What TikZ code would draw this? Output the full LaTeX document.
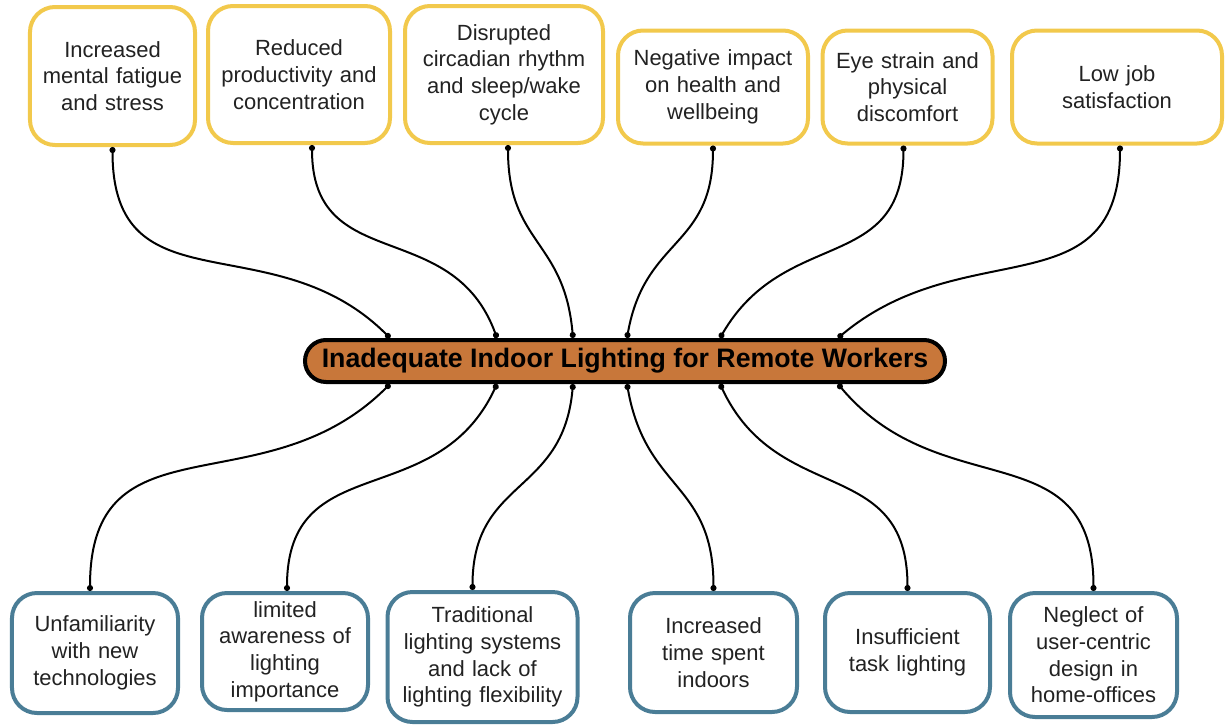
\documentclass[tikz,border=0pt]{standalone}
\usepackage{fontspec}
\setmainfont{Liberation Sans}
\usetikzlibrary{arrows.meta}

\definecolor{effectcol}{HTML}{F2C94C}
\definecolor{causecol}{HTML}{4A7D96}
\definecolor{problemcol}{HTML}{C8773A}
\definecolor{textcol}{HTML}{222222}

\tikzset{
  box/.style={rectangle,rounded corners=5mm,line width=0.8mm,fill=white,
    align=center,text=textcol,inner sep=1mm,
    font=\fontsize{12.5}{15.2}\selectfont},
  effect/.style={box,draw=effectcol},
  cause/.style={box,draw=causecol},
  problem/.style={rectangle,rounded corners=4.2mm,line width=0.8mm,draw=black,
    fill=problemcol,minimum width=128mm,minimum height=8.4mm,
    font=\fontsize{15.2}{18}\selectfont\bfseries},
  link/.style={line width=0.4mm,looseness=1.25,
    {Circle[length=1.2mm]}-{Circle[length=1.2mm]}}
}

\begin{document}
\begin{tikzpicture}[x=0.2mm,y=0.2mm]
  \useasboundingbox (0,0) rectangle (1225,-725);

  % Central problem
  \node[problem] (P) at (625,-361) {Inadequate Indoor Lighting for Remote Workers};

  % Effects (top row)
  \node[effect,minimum width=33mm,minimum height=27.6mm,text width=31mm] (T1) at (112.5,-76) {Increased\\mental fatigue\\and stress};
  \node[effect,minimum width=36.4mm,minimum height=27.4mm,text width=34mm] (T2) at (299,-74.5) {Reduced\\productivity and\\concentration};
  \node[effect,minimum width=39.6mm,minimum height=27.4mm,text width=37mm] (T3) at (504,-74.5) {Disrupted\\circadian rhythm\\and sleep/wake\\cycle};
  \node[effect,minimum width=38mm,minimum height=22.6mm,text width=36mm] (T4) at (713,-87) {Negative impact\\on health and\\wellbeing};
  \node[effect,minimum width=33.8mm,minimum height=22.6mm,text width=32mm] (T5) at (907.5,-87) {Eye strain and\\physical\\discomfort};
  \node[effect,minimum width=42mm,minimum height=22.6mm,text width=38mm] (T6) at (1117,-87) {Low job\\satisfaction};

  % Causes (bottom row)
  \node[cause,minimum width=33.2mm,minimum height=24mm,text width=31mm] (B1) at (95,-653) {Unfamiliarity\\with new\\technologies};
  \node[cause,minimum width=33.2mm,minimum height=23.4mm,text width=31mm] (B2) at (285,-651.5) {limited\\awareness of\\lighting\\importance};
  \node[cause,minimum width=37.8mm,minimum height=26mm,text width=36mm] (B3) at (482.5,-657) {Traditional\\lighting systems\\and lack of\\lighting flexibility};
  \node[cause,minimum width=33.4mm,minimum height=23.8mm,text width=31mm] (B4) at (713.5,-652.5) {Increased\\time spent\\indoors};
  \node[cause,minimum width=33mm,minimum height=23.8mm,text width=31mm] (B5) at (907.5,-652.5) {Insufficient\\task lighting};
  \node[cause,minimum width=33.4mm,minimum height=24.8mm,text width=31mm] (B6) at (1093.5,-655) {Neglect of\\user-centric\\design in\\home-offices};

  % Effects to problem
  \foreach \t/\sx/\dx/\a in {T1/0/-235/135,T2/13/-128/110,T3/4/-52/95,T4/0/2/80,T5/-4/95/60,T6/3/213/40}
    \draw[link] ([xshift=\sx*0.2mm]\t.south) to[out=-90,in=\a] ([xshift=\dx*0.2mm]P.north);

  % Problem to causes
  \foreach \b/\sx/\dx/\a in {B1/-5/-235/-135,B2/2/-128/-115,B3/-10/-52/-95,B4/0/2/-80,B5/0/95/-65,B6/0/213/-50}
    \draw[link] ([xshift=\dx*0.2mm]P.south) to[out=\a,in=90] ([xshift=\sx*0.2mm]\b.north);
\end{tikzpicture}
\end{document}
